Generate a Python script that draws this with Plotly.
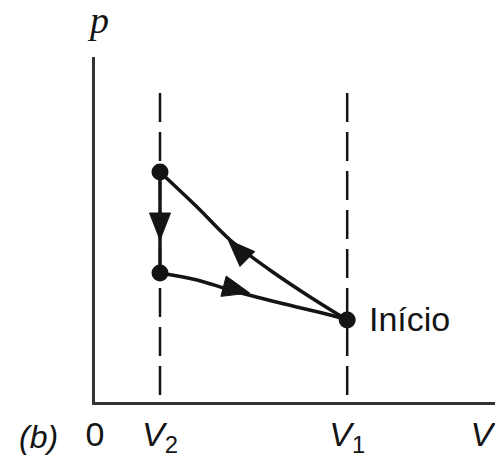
import numpy as np
import plotly.graph_objects as go

# ---------------- data ----------------
V_ticks = [0.0, 1.0, 3.88, 5.95]
V_tick_text = ["0", "<i>V</i><sub>2</sub>", "<i>V</i><sub>1</sub>", "<i>V</i>"]

state_V = [3.88, 1.0, 1.0]          # Início, top, middle
state_p = [0.82, 2.30, 1.29]
start_label = "Início"

compress_V = [3.88, 3.31, 2.69, 2.08, 1.57, 1.0]   # Início -> top
compress_p = [0.82, 1.05, 1.32, 1.62, 1.95, 2.30]
cool_V = [1.0, 1.0]                               # top -> middle
cool_p = [2.30, 1.29]
expand_V = [1.0, 1.57, 2.08, 2.85, 3.62, 3.88]     # middle -> Início
expand_p = [1.29, 1.22, 1.12, 0.99, 0.87, 0.82]

guide_V = [1.0, 3.88]
guide_p = [3.09, 0.07]

arrow_tip_V = [1.0, 2.05, 2.38]
arrow_tip_p = [1.62, 1.62, 1.09]

x_range = [0, 6.154]
y_range = [0, 3.45]

# ---------------- layout geometry ----------------
W, H = 495, 457
ML, MR, MT, MB = 95, 0, 57, 55
SX = (W - ML - MR) / (x_range[1] - x_range[0])
SY = (H - MT - MB) / (y_range[1] - y_range[0])

INK = "#141414"


def arrow_poly(path_x, path_y, tx, ty, length=27.0, width=21.0):
    px = np.array(path_x) * SX
    py = -np.array(path_y) * SY
    T = np.array([tx * SX, -ty * SY])
    best, d = None, None
    for i in range(len(px) - 1):
        a = np.array([px[i], py[i]])
        b = np.array([px[i + 1], py[i + 1]])
        ab = b - a
        t = np.clip(np.dot(T - a, ab) / np.dot(ab, ab), 0, 1)
        dist = np.linalg.norm(a + t * ab - T)
        if best is None or dist < best:
            best, d = dist, ab / np.linalg.norm(ab)
    n = np.array([-d[1], d[0]])
    B = T - d * length
    pts = [T, B + n * width / 2, B - n * width / 2, T]
    xs = [p[0] / SX for p in pts]
    ys = [-p[1] / SY for p in pts]
    return xs, ys


fig = go.Figure()

# dashed guides
for v in guide_V:
    fig.add_trace(go.Scatter(x=[v, v], y=guide_p, mode="lines",
                             line=dict(color=INK, width=2.5, dash="29px,10px"),
                             hoverinfo="skip", showlegend=False))

# process curves
for xs, ys, shape in [(compress_V, compress_p, "spline"),
                      (cool_V, cool_p, "linear"),
                      (expand_V, expand_p, "spline")]:
    fig.add_trace(go.Scatter(x=xs, y=ys, mode="lines",
                             line=dict(color=INK, width=3.5, shape=shape),
                             hoverinfo="skip", showlegend=False))

# arrows
paths = [(cool_V, cool_p), (compress_V, compress_p), (expand_V, expand_p)]
for (pxs, pys), tx, ty in zip(paths, arrow_tip_V, arrow_tip_p):
    ax, ay = arrow_poly(pxs, pys, tx, ty)
    fig.add_trace(go.Scatter(x=ax, y=ay, mode="lines", fill="toself",
                             fillcolor=INK, line=dict(color=INK, width=1),
                             hoverinfo="skip", showlegend=False))

# state points
fig.add_trace(go.Scatter(x=state_V, y=state_p, mode="markers",
                         marker=dict(color=INK, size=17),
                         hoverinfo="skip", showlegend=False, cliponaxis=False))

fig.add_annotation(x=state_V[0], y=state_p[0], text=start_label, showarrow=False,
                   xanchor="left", yanchor="middle", xshift=20, yshift=1,
                   font=dict(family="Liberation Sans, Arial", size=34, color=INK))
fig.add_annotation(x=0, y=y_range[1], text="<i>p</i>", showarrow=False,
                   xanchor="center", yanchor="bottom", xshift=3, yshift=14,
                   font=dict(family="Liberation Serif, Times New Roman", size=38, color=INK))
fig.add_annotation(x=0, y=0, text="<i>(b)</i>", showarrow=False,
                   xanchor="center", yanchor="top", xshift=-57, yshift=-15,
                   font=dict(family="Liberation Sans, Arial", size=32, color=INK))

axis_font = dict(family="Liberation Sans, Arial", size=34, color=INK)
fig.update_layout(
    width=W, height=H,
    margin=dict(l=ML, r=MR, t=MT, b=MB, pad=0),
    paper_bgcolor="white", plot_bgcolor="white",
    xaxis=dict(range=x_range, showgrid=False, zeroline=False, showline=True,
               linecolor="#333333", linewidth=2.5, ticks="",
               tickvals=V_ticks, ticktext=V_tick_text, tickfont=axis_font,
               ticklabeloverflow="allow", automargin=False, fixedrange=True),
    yaxis=dict(range=y_range, showgrid=False, zeroline=False, showline=True,
               linecolor="#333333", linewidth=2.5, ticks="", showticklabels=False,
               automargin=False, fixedrange=True),
    showlegend=False,
)

fig.write_html("out.html", config={"displayModeBar": False},
               post_script="document.body.style.margin='0';document.body.style.overflow='hidden';")
